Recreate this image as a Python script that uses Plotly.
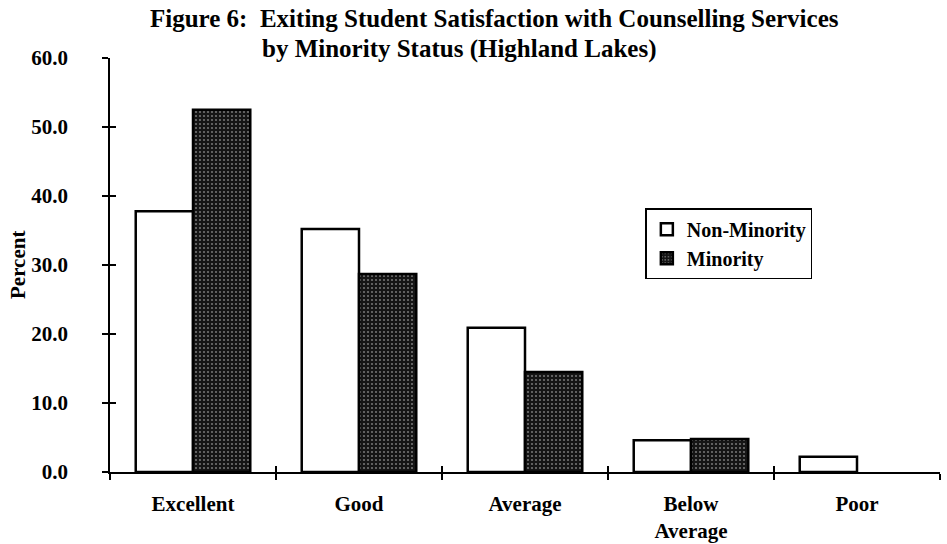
import plotly.graph_objects as go

categories = ["Excellent", "Good", "Average", "Below<br>Average", "Poor"]
non_minority = [37.8, 35.2, 20.9, 4.6, 2.2]
minority = [52.5, 28.7, 14.5, 4.8, 0.0]

title_line1 = "Figure 6:  Exiting Student Satisfaction with Counselling Services"
title_line2 = "by Minority Status (Highland Lakes)"
y_title = "Percent"

font_family = "Liberation Serif, Times New Roman, serif"
bold = dict(family=font_family, color="black", weight="bold")

fig = go.Figure()
fig.add_trace(go.Bar(
    x=categories, y=non_minority, name="Non-Minority",
    marker=dict(color="white",
                line=dict(color="black", width=[2.5 if v > 0 else 0 for v in non_minority])),
))
fig.add_trace(go.Bar(
    x=categories, y=minority, name="Minority",
    marker=dict(
        color="#1a1a1a",
        line=dict(color="black", width=[2.5 if v > 0 else 0 for v in minority]),
        pattern=dict(shape=".", fgcolor="#d0d0d0", bgcolor="#151515",
                     size=4, solidity=0.22, fillmode="overlay"),
    ),
))
# Empty trace that keeps the companion tick axes alive
fig.add_trace(go.Scatter(x=[], y=[], xaxis="x2", yaxis="y2",
                         showlegend=False, hoverinfo="skip"))

fig.update_layout(
    width=947, height=544,
    margin=dict(l=110, r=7, t=58, b=72),
    paper_bgcolor="white", plot_bgcolor="white",
    barmode="group", bargap=0.31, bargroupgap=0.0,
    font=dict(size=20, **bold),
    legend=dict(
        x=0.645, y=0.637, xanchor="left", yanchor="top",
        bgcolor="white", bordercolor="black", borderwidth=1.5,
        font=dict(size=20, **bold), itemwidth=30,
    ),
)

# Heading, two lines set in their own positions above the plot area
fig.add_annotation(
    text=title_line1, xref="paper", yref="paper",
    x=(148 - 110) / 830, y=1.0, yshift=40,
    xanchor="left", yanchor="middle", showarrow=False,
    font=dict(size=25, **bold),
)
fig.add_annotation(
    text=title_line2, xref="paper", yref="paper",
    x=(260 - 110) / 830, y=1.0, yshift=9,
    xanchor="left", yanchor="middle", showarrow=False,
    font=dict(size=25, **bold),
)
# Vertical axis title
fig.add_annotation(
    text=y_title, xref="paper", yref="paper",
    x=0, xshift=-92, y=0.5, textangle=-90,
    xanchor="center", yanchor="middle", showarrow=False,
    font=dict(size=21, **bold),
)

fig.update_xaxes(
    automargin=False,
    showline=True, linecolor="black", linewidth=1.5,
    ticks="outside", ticklen=6, tickwidth=1.5, tickcolor="black",
    tickson="boundaries", ticklabelstandoff=12,
    showgrid=False, zeroline=False,
    tickfont=dict(size=21, **bold),
)
fig.update_yaxes(
    automargin=False,
    range=[0, 60], dtick=10, tickformat=".1f",
    showline=True, linecolor="black", linewidth=1.5,
    ticks="outside", ticklen=6, tickwidth=1.5, tickcolor="black",
    ticklabelstandoff=30,
    showgrid=False, zeroline=False,
    tickfont=dict(size=21, **bold),
)

# Companion axes giving the tick marks their inward half, so they cross the axis lines
fig.update_layout(
    xaxis2=dict(overlaying="x", range=[-0.5, len(categories) - 0.5],
                tickvals=[i - 0.5 for i in range(len(categories) + 1)],
                ticks="inside", ticklen=6, tickwidth=1.5, tickcolor="black",
                showticklabels=False, showgrid=False, zeroline=False,
                showline=False, side="bottom", automargin=False),
    yaxis2=dict(overlaying="y", range=[0, 60], dtick=10,
                ticks="inside", ticklen=6, tickwidth=1.5, tickcolor="black",
                showticklabels=False, showgrid=False, zeroline=False,
                showline=False, side="left", automargin=False),
)

fig.write_html("out.html")
